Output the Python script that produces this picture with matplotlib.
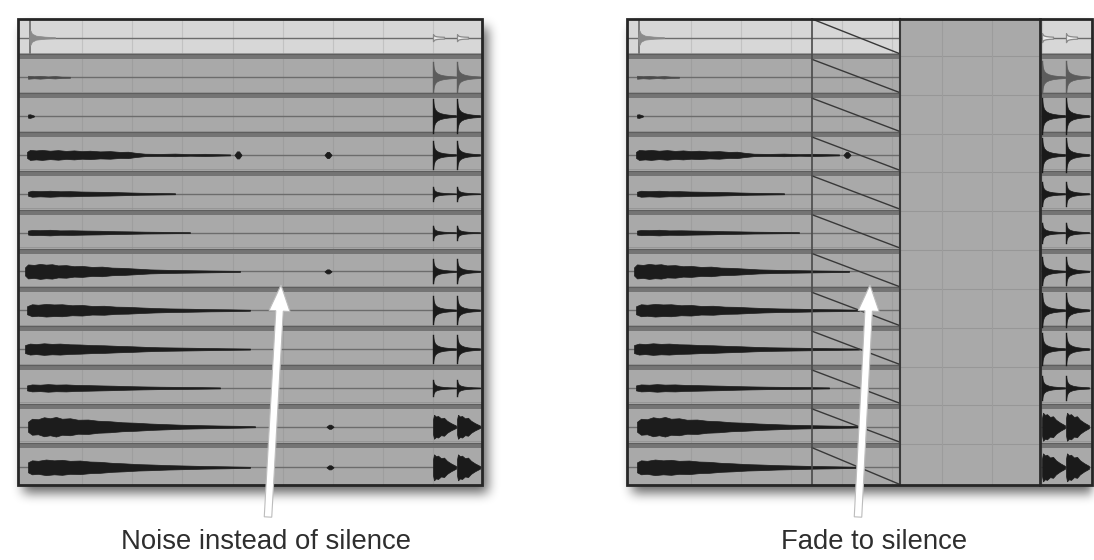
import numpy as np
import matplotlib
matplotlib.use('Agg')
import matplotlib.pyplot as plt
from matplotlib.patches import Rectangle, Polygon

W, H = 1094, 560

# ---------------- data ----------------
N_TRACKS = 12
# body waveform envelopes (x in px of the left panel, half amplitude in px)
BODY_X = [
    [29, 30, 32, 36, 45, 55],
    [28, 34, 40, 48, 55, 62, 70],
    [28, 30, 32, 34],
    [27, 30, 36, 42, 50, 58, 66, 74, 82, 90, 100, 110, 120, 128, 135, 145, 160, 175, 190, 205, 220, 230],
    [28, 32, 40, 50, 60, 70, 82, 95, 110, 125, 140, 155, 175],
    [28, 32, 40, 50, 60, 72, 86, 100, 115, 130, 145, 165, 190],
    [25, 28, 34, 40, 46, 52, 58, 66, 74, 82, 92, 102, 112, 124, 136, 150, 170, 190, 210, 240],
    [27, 32, 38, 46, 54, 62, 72, 82, 92, 104, 116, 128, 140, 155, 170, 190, 210, 230, 250],
    [25, 30, 36, 44, 52, 60, 70, 80, 92, 104, 118, 132, 146, 160, 180, 200, 225, 250],
    [27, 32, 40, 48, 56, 66, 76, 88, 100, 114, 128, 142, 160, 180, 200, 220],
    [28, 32, 38, 44, 50, 56, 62, 70, 78, 88, 98, 110, 122, 136, 150, 166, 182, 200, 220, 240, 255],
    [28, 32, 38, 46, 54, 62, 70, 80, 90, 100, 112, 124, 138, 152, 168, 185, 205, 225, 250],
]
BODY_A = [
    [0.5, 8, 4, 2, 1, 0.5],
    [1.5, 1.0, 1.4, 0.8, 1.2, 0.6, 0.5],
    [1.6, 1.8, 1.2, 0.4],
    [3, 5, 4.5, 5, 4.2, 4.8, 4, 4.5, 3.8, 4.2, 3.5, 3.8, 3, 3.2, 2.2, 1.2, 1, 1.3, 0.8, 1.1, 0.7, 0.5],
    [2, 3, 2.6, 3, 2.5, 2.6, 2.2, 2, 1.8, 1.4, 1, 0.8, 0.5],
    [2, 2.6, 2.4, 2.8, 2.2, 2.3, 2, 1.8, 1.4, 1.2, 0.9, 0.7, 0.4],
    [4, 7, 6.5, 7.5, 6.8, 7.2, 6, 6.3, 5.2, 5.5, 4.5, 4.8, 3.8, 3.5, 2.8, 2, 1.5, 1.2, 0.9, 0.5],
    [4, 6, 5.5, 6.3, 5.8, 6, 5, 5.3, 4.3, 4.5, 3.6, 3.4, 2.8, 2.2, 1.8, 1.5, 1.1, 0.9, 0.5],
    [4, 5.5, 5, 5.8, 5.2, 5.5, 4.8, 4.6, 4, 3.8, 3.2, 2.8, 2.2, 1.8, 1.5, 1.2, 0.8, 0.5],
    [2.5, 3.5, 3.2, 3.8, 3.3, 3.5, 3, 2.8, 2.5, 2.2, 1.8, 1.5, 1.2, 1, 0.8, 0.5],
    [5, 8, 7.5, 9.5, 8.5, 9.8, 8, 8.5, 7, 7.2, 6, 5.5, 4.5, 4, 3.2, 2.6, 2, 1.6, 1.2, 0.9, 0.5],
    [5, 7, 6.5, 7.8, 7, 7.5, 6.5, 6.8, 5.8, 5.5, 4.5, 4, 3.2, 2.8, 2.2, 1.8, 1.3, 1, 0.5],
]
BLIPS = [[], [], [], [(238, 3.5), (328, 3)], [], [], [(328, 2)],
         [], [], [], [(330, 2)], [(330, 2)]]
HIT_X = [433, 457]
HIT_AMP_LEFT = [3, 15, 17, 14, 7, 7, 12, 14, 14, 8, 12, 13]
HIT_AMP_RIGHT = [4, 16, 18, 17, 12, 10, 14, 17, 16, 12, 14, 14]
HIT_KIND = ['hollow', 'gray', 'dark', 'dark', 'dark', 'dark', 'dark',
            'dark', 'dark', 'dark', 'dense', 'dense']
HIT_DX = [0, 0.8, 2, 4, 7, 11, 16, 23]
HIT_REL = [1, 0.62, 0.4, 0.27, 0.18, 0.12, 0.08, 0.05]
DENSE_DX = [0, 1, 3, 5, 8, 11, 14, 18, 23]
DENSE_REL = [0.6, 1.0, 0.85, 0.9, 0.7, 0.75, 0.5, 0.3, 0.1]
GRID_X = [82, 132, 182, 233, 283, 333, 383, 433]

LABELS = ['Noise instead of silence', 'Fade to silence']

# ---------------- geometry ----------------
TOP, BOT = 19, 485
RH = (BOT - TOP) / N_TRACKS
LEFT = (18, 482)
RIGHT = (627, 1092)
OFF = 609
FADE = (812, 900)
GAP = (900, 1040)

fig = plt.figure(figsize=(W / 100, H / 100), dpi=100)
ax = fig.add_axes([0, 0, 1, 1])
ax.set_xlim(0, W)
ax.set_ylim(H, 0)
ax.axis('off')
fig.patch.set_facecolor('white')

# drop shadows
def box_blur(a, r):
    for axis in (0, 1):
        c = np.cumsum(np.pad(a, [(r + 1, r) if i == axis else (0, 0) for i in range(2)]), axis=axis)
        if axis == 0:
            a = (c[2 * r + 1:] - c[:-2 * r - 1]) / (2 * r + 1)
        else:
            a = (c[:, 2 * r + 1:] - c[:, :-2 * r - 1]) / (2 * r + 1)
    return a

mask = np.zeros((H, W))
for (x0, x1) in (LEFT, RIGHT):
    mask[TOP + 8:BOT + 8, x0 + 5:min(x1 + 6, W)] = 1
for _ in range(3):
    mask = box_blur(mask, 5)
shadow = np.zeros((H, W, 4))
shadow[..., 3] = mask * 0.6
ax.imshow(shadow, extent=(0, W, H, 0), zorder=0, interpolation='bilinear')


def row_geom(r):
    b_top = TOP + r * RH
    b_bot = b_top + RH
    body_top = b_top + (1.5 if r > 0 else 0)
    body_bot = b_bot - 3.5 if r < N_TRACKS - 1 else b_bot
    yc = (body_top + body_bot) / 2 + 1
    return b_top, b_bot, body_top, body_bot, yc


def draw_rows(x0, x1, grid, light_top=True):
    for r in range(N_TRACKS):
        b_top, b_bot, body_top, body_bot, yc = row_geom(r)
        col = '#d7d7d7' if (r == 0 and light_top) else '#a9a9a9'
        ax.add_patch(Rectangle((x0, b_top), x1 - x0, b_bot - b_top, fc=col, ec='none', zorder=1))
        if r > 0:
            ax.add_patch(Rectangle((x0, b_top - 3.5), x1 - x0, 5, fc='#747474', ec='none', zorder=2))
            ax.plot([x0, x1], [b_top - 3.5, b_top - 3.5], color='#5e5e5e', lw=0.8, zorder=2)
        ax.plot([x0, x1], [yc, yc], color='#6c6c6c', lw=1.0, zorder=2)
        ax.plot([x0, x1], [body_bot - 1.5, body_bot - 1.5], color='#939393', lw=0.6, zorder=2)
        gcol = '#c2c2c2' if (r == 0 and light_top) else '#9e9e9e'
        for gx in grid:
            if x0 < gx < x1:
                ax.plot([gx, gx], [body_top, body_bot], color=gcol, lw=0.8, zorder=1.5)


def draw_body(r, shift, xmax):
    _, _, body_top, body_bot, yc = row_geom(r)
    xs = np.array(BODY_X[r]) + shift
    a = np.array(BODY_A[r])
    keep = xs <= xmax
    color = '#1c1c1c'
    if r == 0:
        ax.plot([xs[1], xs[1]], [body_top + 1, body_bot - 1], color='#7a7a7a', lw=1.4, zorder=3)
        color = '#8a8a8a'
    elif r == 1:
        color = '#4a4a4a'
    ax.fill_between(xs[keep], yc - a[keep], yc + a[keep], color=color, lw=0.5, ec=color, zorder=3)
    for bx, ba in BLIPS[r]:
        bx = bx + shift
        if bx <= xmax:
            fac = 1.0
            if FADE[0] < bx < FADE[1] and shift:
                fac = 1 - (bx - FADE[0]) / (FADE[1] - FADE[0]) * 0.5
            ax.fill_between([bx - 3.5, bx - 1, bx + 1, bx + 3.5],
                            [yc, yc - ba * fac, yc - ba * fac, yc],
                            [yc, yc + ba * fac, yc + ba * fac, yc],
                            color='#1c1c1c', lw=0.6, ec='#1c1c1c', zorder=3)


def draw_hits(r, shift, amps, xend):
    _, _, body_top, body_bot, yc = row_geom(r)
    A = amps[r]
    kind = HIT_KIND[r]
    for hx in HIT_X:
        hx = hx + shift
        if kind == 'dense':
            dx, rel = np.array(DENSE_DX), np.array(DENSE_REL)
        else:
            dx, rel = np.array(HIT_DX), np.array(HIT_REL)
        xs = np.minimum(hx + dx, xend)
        if kind == 'hollow':
            ax.fill_between(xs[:6], yc - A * rel[:6] - 0.5, yc + A * rel[:6] + 0.5,
                            fc='#eeeeee', ec='#8a8a8a', lw=0.9, zorder=3)
            continue
        col = '#5c5c5c' if kind == 'gray' else '#1a1a1a'
        ax.fill_between(xs, yc - A * rel, yc + A * rel, color=col, ec=col, lw=0.5, zorder=3)
        if kind != 'dense':
            ax.plot([hx, hx], [yc - A, yc + A], color=col, lw=1.0, zorder=3)


# ---------------- left panel ----------------
draw_rows(LEFT[0], LEFT[1], GRID_X)
for r in range(N_TRACKS):
    draw_body(r, 0, LEFT[1])
    draw_hits(r, 0, HIT_AMP_LEFT, LEFT[1] - 1)
ax.add_patch(Rectangle((LEFT[0], TOP), LEFT[1] - LEFT[0], BOT - TOP, fc='none', ec='#262626', lw=2, zorder=6))

# ---------------- right panel ----------------
draw_rows(RIGHT[0], RIGHT[1], [g + OFF for g in GRID_X])
for r in range(N_TRACKS):
    draw_body(r, OFF, FADE[1])
    draw_hits(r, OFF, HIT_AMP_RIGHT, RIGHT[1] - 1)
# empty gap
ax.add_patch(Rectangle((GAP[0], TOP), GAP[1] - GAP[0], BOT - TOP, fc='#a9a9a9', ec='none', zorder=4))
for r in range(1, N_TRACKS):
    b_top = TOP + r * RH
    ax.plot(GAP, [b_top - 2, b_top - 2], color='#979797', lw=0.8, zorder=4.5)
for gx in (942, 992):
    ax.plot([gx, gx], [TOP, BOT], color='#9c9c9c', lw=0.8, zorder=4.5)
# fade lines
for r in range(N_TRACKS):
    _, _, body_top, body_bot, yc = row_geom(r)
    ax.plot(FADE, [body_top, body_bot - 0.5], color='#383838', lw=1.0, zorder=5)
ax.plot([FADE[0], FADE[0]], [TOP, BOT], color='#4a4a4a', lw=1.2, zorder=5)
ax.plot([FADE[1], FADE[1]], [TOP, BOT], color='#3a3a3a', lw=1.5, zorder=5)
ax.plot([GAP[1], GAP[1]], [TOP, BOT], color='#2a2a2a', lw=2.0, zorder=5)
ax.add_patch(Rectangle((RIGHT[0], TOP), RIGHT[1] - RIGHT[0], BOT - TOP, fc='none', ec='#262626', lw=2, zorder=6))

# ---------------- arrows and captions ----------------
def arrow(bx, by, tx, ty, shaft=7.5, head_w=21, head_l=26):
    d = np.array([tx - bx, ty - by], float)
    L = np.hypot(*d)
    u = d / L
    n = np.array([-u[1], u[0]])
    b = np.array([bx, by], float)
    t = np.array([tx, ty], float)
    hb = t - u * head_l
    pts = [b + n * shaft / 2, hb + n * shaft / 2, hb + n * head_w / 2, t,
           hb - n * head_w / 2, hb - n * shaft / 2, b - n * shaft / 2]
    ax.add_patch(Polygon(pts, closed=True, fc='white', ec='#bcbcbc', lw=0.8, zorder=7))

arrow(268, 517, 281, 285)
arrow(858, 517, 870, 285)

ax.text(266, 542, LABELS[0], ha='center', va='center', fontsize=19.8,
        family='Liberation Sans', color='#2e2e2e', zorder=8)
ax.text(874, 542, LABELS[1], ha='center', va='center', fontsize=19.8,
        family='Liberation Sans', color='#2e2e2e', zorder=8)

fig.savefig('out.png', dpi=100, facecolor='white')
